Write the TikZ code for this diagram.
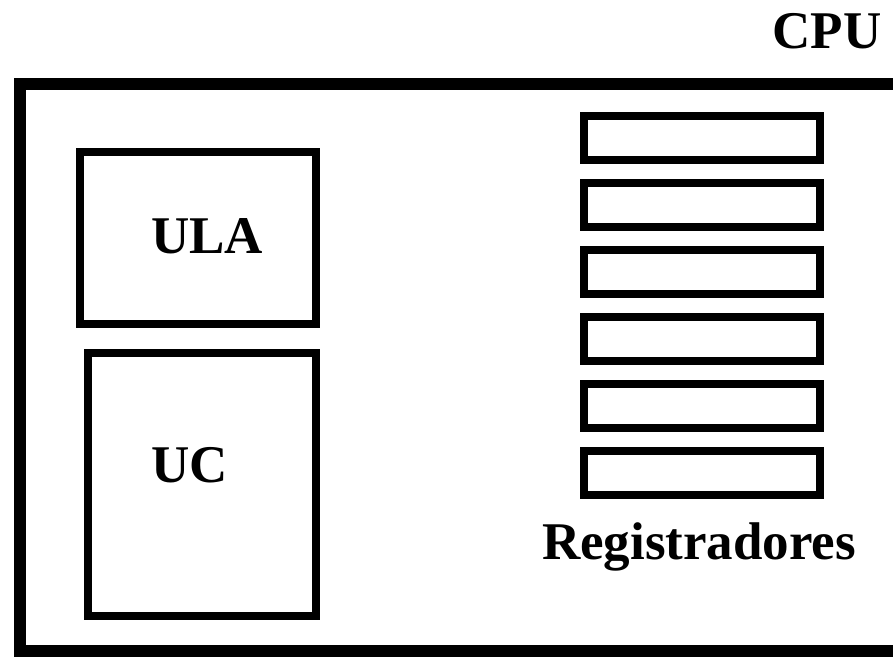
\documentclass[tikz,border=0pt]{standalone}
\usepackage{fontspec}
\setmainfont{Liberation Serif}
\begin{document}
\begin{tikzpicture}[x=1pt,y=-1pt,
  box/.style={draw=black, line width=8pt, rectangle, inner sep=0pt, outer sep=0pt},
  regbox/.style={box, minimum width=236pt, minimum height=44pt},
  lbl/.style={font=\fontsize{53}{60}\selectfont\bfseries, inner sep=0pt, anchor=base}
]
\useasboundingbox (0,0) rectangle (893,657);
\clip (0,0) rectangle (893,657);
\fill[white] (0,0) rectangle (893,657);
% outer CPU frame
\draw[line width=12pt] (20,84) rectangle (920,651);
\node[lbl] (cpu) at (827,48) {CPU};
% ULA
\node[box, minimum width=236pt, minimum height=172pt] (ulabox) at (198,238) {};
\node[lbl] (ula) at (207,253) {ULA};
% UC
\node[box, minimum width=228pt, minimum height=263pt] (ucbox) at (202,484.5) {};
\node[lbl] (uc) at (190,482) {UC};
% registers
\foreach \i in {0,...,5} {
  \node[regbox] (reg\i) at (702,{138+67*\i}) {};
}
\node[lbl] (regs) at (699,559) {Registradores};
\end{tikzpicture}
\end{document}
